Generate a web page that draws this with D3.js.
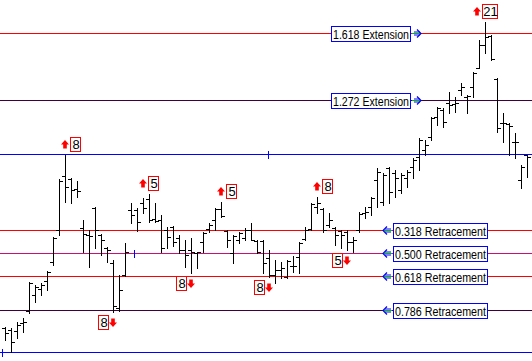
<!DOCTYPE html>
<html>
<head>
<meta charset="utf-8">
<script src="https://cdn.jsdelivr.net/npm/d3@7"></script>
<style>
  body { margin: 0; background: #fff; }
  svg { display: block; }
</style>
</head>
<body>
<div id="chart"></div>
<script>
// OHLC bars, price units (higher = up)
const opens = [33,31,30,38,50,66,72,80,99,131,185,182,172,133,126,153,126,113,98,53,86,151,151,158,162,142,141,131,134,123,
  111,111,108,119,132,141,152,130,108,121,123,131,120,120,103,86,91,84,95,104,122,132,154,152,136,133,130,129,119,131,
  148,154,181,159,193,188,171,183,194,204,211,224,244,251,258,257,271,264,274,293,316,325,282,238,237,219,181,206];
const highs = [34,33,39,43,79,76,78,90,124,182,206,183,180,141,131,154,127,114,101,86,118,158,153,163,167,158,146,134,135,126,
  121,123,109,129,138,153,159,131,126,129,133,138,121,121,111,101,99,101,105,119,134,158,164,153,148,134,131,131,124,149,
  154,164,193,188,194,191,188,191,203,223,221,244,254,253,269,264,278,266,289,321,339,326,283,248,238,228,196,206];
const lows = [21,9,23,29,48,59,66,71,96,126,159,158,164,109,94,113,106,99,49,50,85,138,130,148,139,139,109,113,115,108,
  94,88,93,109,129,131,144,114,98,118,121,121,108,88,84,78,83,83,89,88,121,131,148,129,134,116,113,111,109,129,
  143,146,154,156,158,164,168,174,183,191,206,221,236,234,248,249,266,248,264,293,308,301,229,219,206,203,173,184];
const closes = [28,19,36,39,78,74,76,89,123,180,174,171,170,127,125,131,121,111,55,71,109,146,139,153,141,140,113,124,119,111,
  106,109,109,128,136,152,145,121,125,128,131,121,109,98,86,91,93,100,95,118,131,157,158,131,141,126,126,119,121,147,
  149,163,189,186,169,183,186,189,201,221,216,243,253,239,256,258,274,265,288,316,324,302,233,238,235,219,194,204];

// Fibonacci / swing levels
const levelNames = ['1.618 Extension', '1.272 Extension', '', '0.318 Retracement', '0.500 Retracement',
  '0.618 Retracement', '0.786 Retracement', ''];
const levelValues = [328, 261, 207, 131, 108, 85, 51, 9];
const levelColors = ['#ff0000', '#400040', '#0000ff', '#ff0000', '#c8107a', '#ff0000', '#400040', '#0000ff'];

// pivot counts
const markerBars = [10, 23, 36, 52, 78.7, 18, 31, 44, 57];
const markerLabels = ['8', '5', '5', '8', '21', '8', '8', '8', '5'];
const markerDirs = ['up', 'up', 'up', 'up', 'up', 'down', 'down', 'down', 'down'];

// small blue tick marks on the lines
const tickBars = [-0.5, 21.5, 43.8];
const tickValues = [9, 108, 207];

const width = 532, height = 361;

const svg = d3.select('#chart').append('svg')
  .attr('width', width)
  .attr('height', height)
  .style('font-family', 'Liberation Sans, Arial, sans-serif');

const x = d3.scaleLinear().domain([0, opens.length - 1]).range([5, 527]);
const y = d3.scaleLinear().domain([0, 361]).range([361, 0]);
const px = v => Math.round(x(v)) + 0.5;
const py = v => Math.round(y(v)) + 0.5;

// level lines
svg.append('g').selectAll('line')
  .data(levelValues)
  .join('line')
  .attr('x1', 0).attr('x2', width)
  .attr('y1', d => py(d)).attr('y2', d => py(d))
  .attr('stroke', (d, i) => levelColors[i])
  .attr('stroke-width', 1)
  .attr('shape-rendering', 'crispEdges');

// blue ticks
svg.append('g').selectAll('line')
  .data(tickBars)
  .join('line')
  .attr('x1', d => px(d)).attr('x2', d => px(d))
  .attr('y1', (d, i) => py(tickValues[i]) - 4)
  .attr('y2', (d, i) => py(tickValues[i]) + 4)
  .attr('stroke', '#0000ff')
  .attr('shape-rendering', 'crispEdges');

// bars
const bars = svg.append('g')
  .attr('stroke', '#000')
  .attr('shape-rendering', 'crispEdges');
const idx = d3.range(opens.length);
bars.selectAll('line.hl').data(idx).join('line').attr('class', 'hl')
  .attr('x1', i => px(i)).attr('x2', i => px(i))
  .attr('y1', i => py(highs[i]) - 0.5).attr('y2', i => py(lows[i]) + 0.5);
bars.selectAll('line.o').data(idx).join('line').attr('class', 'o')
  .attr('x1', i => px(i) - 3.5).attr('x2', i => px(i))
  .attr('y1', i => py(opens[i])).attr('y2', i => py(opens[i]));
bars.selectAll('line.c').data(idx).join('line').attr('class', 'c')
  .attr('x1', i => px(i)).attr('x2', i => px(i) + 3.5)
  .attr('y1', i => py(closes[i])).attr('y2', i => py(closes[i]));

// level labels
const labels = svg.append('g');
levelNames.forEach((name, i) => {
  if (!name) return;
  const ly = py(levelValues[i]);
  const ext = name.indexOf('Extension') >= 0;
  const bx = ext ? 331 : 393;
  const bw = ext ? 79 : 94;
  const g = labels.append('g');
  g.append('rect')
    .attr('x', bx + 0.5).attr('y', ly - 7.5)
    .attr('width', bw).attr('height', 15)
    .attr('fill', '#fff').attr('stroke', '#0000ff')
    .attr('shape-rendering', 'crispEdges');
  g.append('text')
    .attr('x', bx + 2).attr('y', ly + 5)
    .attr('font-size', 12)
    .attr('textLength', bw - 3)
    .attr('lengthAdjust', 'spacingAndGlyphs')
    .attr('fill', '#000')
    .text(name);
  // little arrow glyph
  const ax = ext ? bx + bw + 2 : bx - 10;
  g.append('line')
    .attr('x1', ax).attr('x2', ax + 9)
    .attr('y1', ly).attr('y2', ly)
    .attr('stroke', '#00c000').attr('stroke-width', 1);
  g.append('line')
    .attr('x1', ax + 2).attr('x2', ax + 8)
    .attr('y1', ly - 1.5).attr('y2', ly - 1.5)
    .attr('stroke', '#0000ff');
  g.append('line')
    .attr('x1', ax + 2).attr('x2', ax + 8)
    .attr('y1', ly + 1.5).attr('y2', ly + 1.5)
    .attr('stroke', '#0000ff');
  const tip = ext ? ax + 9 : ax;
  const back = ext ? tip - 4 : tip + 4;
  g.append('path')
    .attr('d', 'M' + back + ',' + (ly - 4) + 'L' + tip + ',' + ly + 'L' + back + ',' + (ly + 4))
    .attr('fill', 'none').attr('stroke', '#0000ff').attr('stroke-width', 1.2);
});

// pivot markers
const marks = svg.append('g');
markerBars.forEach((b, i) => {
  const label = markerLabels[i];
  const up = markerDirs[i] === 'up';
  const bw = label.length > 1 ? 15 : 10;
  const bh = 14;
  const cx = Math.round(x(b));
  const near = d3.range(Math.floor(b), Math.ceil(b) + 2).filter(k => k < opens.length);
  let arrowX, boxX, boxY;
  if (up) {
    const hy = Math.round(y(d3.max(near, k => highs[k])));
    boxY = hy - 4 - bh;
    arrowX = cx;
    boxX = cx + 5;
  } else {
    const ly = Math.round(y(lows[Math.round(b)]));
    boxY = ly + 3;
    arrowX = cx;
    boxX = cx - 5 - bw;
  }
  marks.append('rect')
    .attr('x', boxX + 0.5).attr('y', boxY + 0.5)
    .attr('width', bw).attr('height', bh)
    .attr('fill', '#fff').attr('stroke', '#ff0000')
    .attr('shape-rendering', 'crispEdges');
  marks.append('text')
    .attr('x', boxX + bw / 2 + 1).attr('y', boxY + 12)
    .attr('text-anchor', 'middle')
    .attr('font-size', 13)
    .attr('fill', '#000')
    .text(label);
  const my = boxY + bh / 2 + 0.5;
  const s = up ? -1 : 1;
  const d = 'M' + (arrowX - 4) + ',' + (my + s * 0) + 'L' + arrowX + ',' + (my + s * 4.5) + 'L' + (arrowX + 4) + ',' + (my + s * 0) +
      'L' + (arrowX + 1.8) + ',' + (my + s * 0) + 'L' + (arrowX + 1.8) + ',' + (my - s * 4) + 'L' + (arrowX - 1.8) + ',' + (my - s * 4) +
      'L' + (arrowX - 1.8) + ',' + (my + s * 0) + 'Z';
  marks.append('path').attr('d', d).attr('fill', '#ff0000');
});
</script>
</body>
</html>
